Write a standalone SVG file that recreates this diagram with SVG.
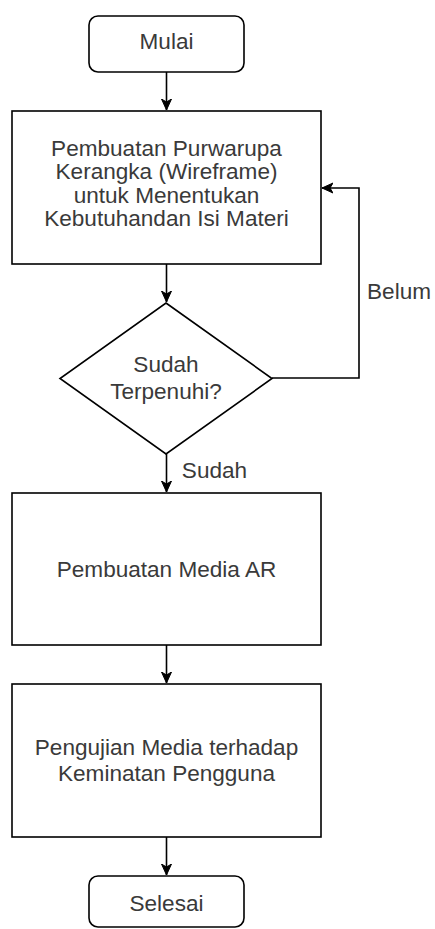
<svg xmlns="http://www.w3.org/2000/svg" width="435" height="929" viewBox="0 0 435 929">
<style>
.box{fill:#ffffff;stroke:#000000;stroke-width:1.6}
.t{font-family:"Liberation Sans",Arial,sans-serif;font-size:21.5px;fill:#3a3a3a;text-anchor:middle}
.c{fill:none;stroke:#000000;stroke-width:1.6;marker-end:url(#arr)}
</style>
<defs>
<marker id="arr" markerUnits="userSpaceOnUse" markerWidth="14" markerHeight="14" refX="11" refY="6" orient="auto">
<path d="M0,1 L11,6 L0,11 L3,6 Z" fill="#000000" stroke="#000000" stroke-width="1"/>
</marker>
</defs>
<rect width="435" height="929" fill="#ffffff"/>
<g id="connectors">
<path class="c" d="M166.5,72 V110"/>
<path class="c" d="M166.5,264 V302"/>
<path class="c" d="M166.5,454 V492"/>
<path class="c" d="M166.5,645 V683"/>
<path class="c" d="M166.5,837 V875"/>
<path class="c" d="M272,378 H359 V188 H322"/>
<text class="t" transform="translate(399 299) scale(1.05 1)">Belum</text>
<text class="t" transform="translate(214.5 478) scale(1.05 1)">Sudah</text>
</g>
<g id="mulai">
<rect class="box" x="89" y="16" width="155" height="56" rx="9"/>
<text class="t" transform="translate(166.5 49) scale(1.05 1)">Mulai</text>
</g>
<g id="wireframe">
<rect class="box" x="12" y="111" width="309" height="153"/>
<text class="t" transform="translate(166.5 156) scale(1.05 1)"><tspan x="0" y="0">Pembuatan Purwarupa</tspan><tspan x="0" y="23.5">Kerangka (Wireframe)</tspan><tspan x="0" y="47">untuk Menentukan</tspan><tspan x="0" y="70.5">Kebutuhandan Isi Materi</tspan></text>
</g>
<g id="decision">
<polygon class="box" points="166,303 272,378.5 166,454 60,378.5"/>
<text class="t" transform="translate(166 372) scale(1.05 1)"><tspan x="0" y="0">Sudah</tspan><tspan x="0" y="27">Terpenuhi?</tspan></text>
</g>
<g id="media">
<rect class="box" x="12" y="493" width="309" height="152"/>
<text class="t" transform="translate(166.5 577) scale(1.05 1)">Pembuatan Media AR</text>
</g>
<g id="pengujian">
<rect class="box" x="12" y="684" width="309" height="153"/>
<text class="t" transform="translate(166.5 755) scale(1.05 1)"><tspan x="0" y="0">Pengujian Media terhadap</tspan><tspan x="0" y="26">Keminatan Pengguna</tspan></text>
</g>
<g id="selesai">
<rect class="box" x="89" y="876" width="155" height="51" rx="9"/>
<text class="t" transform="translate(166.5 911) scale(1.05 1)">Selesai</text>
</g>
</svg>
